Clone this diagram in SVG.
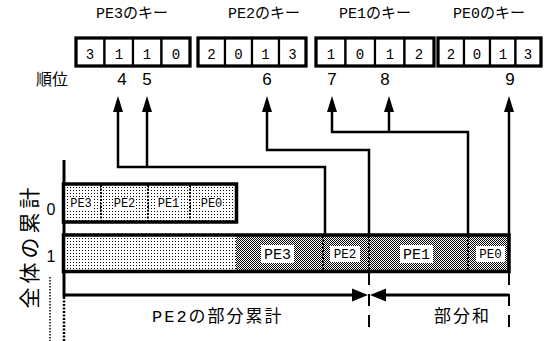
<svg xmlns="http://www.w3.org/2000/svg" width="556" height="341" viewBox="0 0 556 341">
<style>
.mono{font-family:"Liberation Mono","Noto Sans CJK JP",monospace;fill:#000}
.sans{font-family:"Liberation Sans","Noto Sans CJK JP",sans-serif;fill:#000}
.jp{font-family:"Noto Sans CJK JP",sans-serif;fill:#000}
.cell{fill:#fff;stroke:#000;stroke-width:2.2}
.kbox{fill:none;stroke:#000;stroke-width:3.2}
.bar{fill:none;stroke:#000;stroke-width:3.5}
.div{stroke:#000;stroke-width:2;stroke-dasharray:2 1.5}
.conn{fill:none;stroke:#000;stroke-width:2.5}
.lbl{fill:#fff;stroke:none}
</style>
<defs>
<pattern id="dots" width="3" height="3" patternUnits="userSpaceOnUse">
<rect width="3" height="3" fill="#fff"/>
<rect x="1" y="1" width="1" height="1" fill="#000"/>
</pattern>
<pattern id="dense" width="2" height="2" patternUnits="userSpaceOnUse">
<rect width="2" height="2" fill="#fff"/>
<rect x="0" y="0" width="1" height="1" fill="#000"/>
<rect x="1" y="1" width="1" height="1" fill="#000"/>
</pattern>
<marker id="up" markerUnits="userSpaceOnUse" markerWidth="16" markerHeight="12" refX="11" refY="6" orient="auto" viewBox="0 0 16 12">
<path d="M0,1 L16,6 L0,11 z" fill="#000"/>
</marker>
<marker id="big" markerUnits="userSpaceOnUse" markerWidth="16" markerHeight="14" refX="10" refY="7" orient="auto" viewBox="0 0 16 14">
<path d="M0,0.5 L16,7 L0,13.5 z" fill="#000"/>
</marker>
</defs>

<g id="key-titles">
<text class="mono" x="132" y="18" font-size="15" text-anchor="middle">PE3のキー</text>
<text class="mono" x="264" y="18" font-size="15" text-anchor="middle">PE2のキー</text>
<text class="mono" x="375" y="18" font-size="15" text-anchor="middle">PE1のキー</text>
<text class="mono" x="489" y="18" font-size="15" text-anchor="middle">PE0のキー</text>
</g>

<g id="pe3-key">
<rect class="cell" x="76" y="38" width="28.5" height="28"/>
<rect class="cell" x="104.5" y="38" width="28.5" height="28"/>
<rect class="cell" x="133" y="38" width="28.5" height="28"/>
<rect class="cell" x="161.5" y="38" width="28.5" height="28"/>
<rect class="kbox" x="76" y="38" width="114" height="28"/>
<text class="mono" font-size="14" text-anchor="middle" y="59"><tspan x="90">3</tspan><tspan x="119">1</tspan><tspan x="147">1</tspan><tspan x="176">0</tspan></text>
</g>
<g id="pe2-key">
<rect class="cell" x="198" y="38" width="27" height="28"/>
<rect class="cell" x="225" y="38" width="27" height="28"/>
<rect class="cell" x="252" y="38" width="27" height="28"/>
<rect class="cell" x="279" y="38" width="27" height="28"/>
<rect class="kbox" x="198" y="38" width="108" height="28"/>
<text class="mono" font-size="14" text-anchor="middle" y="59"><tspan x="211.5">2</tspan><tspan x="238.5">0</tspan><tspan x="265.5">1</tspan><tspan x="292.5">3</tspan></text>
</g>
<g id="pe1-key">
<rect class="cell" x="316" y="38" width="29.5" height="28"/>
<rect class="cell" x="345.5" y="38" width="29.5" height="28"/>
<rect class="cell" x="375" y="38" width="29.5" height="28"/>
<rect class="cell" x="404.5" y="38" width="29.5" height="28"/>
<rect class="kbox" x="316" y="38" width="118" height="28"/>
<text class="mono" font-size="14" text-anchor="middle" y="59"><tspan x="331">1</tspan><tspan x="360">0</tspan><tspan x="390">1</tspan><tspan x="419">2</tspan></text>
</g>
<g id="pe0-key">
<rect class="cell" x="438" y="38" width="26" height="28"/>
<rect class="cell" x="464" y="38" width="26" height="28"/>
<rect class="cell" x="490" y="38" width="25.5" height="28"/>
<rect class="cell" x="515.5" y="38" width="25.5" height="28"/>
<rect class="kbox" x="438" y="38" width="103" height="28"/>
<text class="mono" font-size="14" text-anchor="middle" y="59"><tspan x="451">2</tspan><tspan x="477">0</tspan><tspan x="503">1</tspan><tspan x="528">3</tspan></text>
</g>

<g id="ranks">
<text class="jp" x="36" y="85" font-size="16">順位</text>
<text class="sans" font-size="17" text-anchor="middle" y="85"><tspan x="122">4</tspan><tspan x="147">5</tspan><tspan x="267">6</tspan><tspan x="332">7</tspan><tspan x="385">8</tspan><tspan x="510">9</tspan></text>
</g>

<g id="connectors">
<polyline class="conn" points="325,235 325,167 118,167 118,101" marker-end="url(#up)"/>
<polyline class="conn" points="147,167 147,101" marker-end="url(#up)"/>
<polyline class="conn" points="369,235 369,150 267,150 267,101" marker-end="url(#up)"/>
<polyline class="conn" points="468,235 468,132 332,132 332,101" marker-end="url(#up)"/>
<polyline class="conn" points="389,132 389,101" marker-end="url(#up)"/>
<polyline class="conn" points="509,235 509,101" marker-end="url(#up)"/>
<line x1="64" y1="295" x2="362" y2="295" stroke="#000" stroke-width="3" marker-end="url(#big)"/>
<line x1="509" y1="295" x2="376" y2="295" stroke="#000" stroke-width="3" marker-end="url(#big)"/>
<line x1="369" y1="273" x2="369" y2="327" stroke="#000" stroke-width="2" stroke-dasharray="12 9"/>
<line x1="509" y1="273" x2="509" y2="327" stroke="#000" stroke-width="2" stroke-dasharray="12 9"/>
</g>

<g id="axis">
<line x1="64" y1="160" x2="64" y2="297" stroke="#000" stroke-width="3"/>
<line x1="64" y1="297" x2="64" y2="341" stroke="#000" stroke-width="2.5" stroke-dasharray="2 1.5"/>
<line x1="50" y1="277" x2="50" y2="341" stroke="#000" stroke-width="1.5" stroke-dasharray="1.5 1.5"/>
<text class="jp" font-size="21" letter-spacing="4" text-anchor="middle" transform="translate(37,246) rotate(-90)">全体の累計</text>
<text class="sans" x="51" y="215" font-size="16" text-anchor="middle">0</text>
<text class="sans" x="51" y="262" font-size="16" text-anchor="middle">1</text>
</g>

<g id="bar0">
<rect x="64" y="184" width="173" height="38" fill="url(#dots)"/>
<line class="div" x1="101" y1="185" x2="101" y2="221"/>
<line class="div" x1="148" y1="185" x2="148" y2="221"/>
<line class="div" x1="190" y1="185" x2="190" y2="221"/>
<rect class="lbl" x="70" y="197" width="22" height="12"/>
<rect class="lbl" x="113" y="197" width="23" height="12"/>
<rect class="lbl" x="157" y="197" width="23" height="12"/>
<rect class="lbl" x="200" y="197" width="23" height="12"/>
<text class="mono" font-size="12" text-anchor="middle" y="207"><tspan x="81">PE3</tspan><tspan x="124.5">PE2</tspan><tspan x="168.5">PE1</tspan><tspan x="211.5">PE0</tspan></text>
<rect class="bar" x="63.5" y="184" width="173" height="38"/>
</g>

<g id="bar1">
<rect x="64" y="235" width="172" height="36" fill="url(#dots)"/>
<rect x="236" y="235" width="273" height="36" fill="url(#dense)"/>
<line class="div" x1="323" y1="236" x2="323" y2="270"/>
<line class="div" x1="369" y1="236" x2="369" y2="270"/>
<line class="div" x1="468" y1="236" x2="468" y2="270"/>
<rect class="lbl" x="261" y="245" width="33" height="18"/>
<rect class="lbl" x="330" y="246" width="30" height="16"/>
<rect class="lbl" x="400" y="245" width="33" height="18"/>
<rect class="lbl" x="476" y="246" width="29" height="16"/>
<text class="mono" font-size="15" text-anchor="middle" x="277.5" y="259">PE3</text>
<text class="mono" font-size="12.5" text-anchor="middle" x="345" y="258">PE2</text>
<text class="mono" font-size="15" text-anchor="middle" x="416.5" y="259">PE1</text>
<text class="mono" font-size="12.5" text-anchor="middle" x="490.5" y="258">PE0</text>
<rect class="bar" x="63.5" y="235" width="445.5" height="36.5"/>
</g>

<g id="range-labels">
<text class="mono" x="152" y="322" font-size="17" letter-spacing="2">PE2の部分累計</text>
<text class="jp" x="434" y="322" font-size="17" letter-spacing="2">部分和</text>
</g>
</svg>
